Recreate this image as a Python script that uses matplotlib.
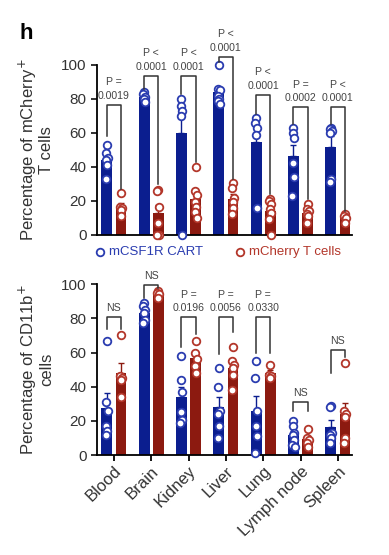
import numpy as np
import matplotlib
matplotlib.use("Agg")
import matplotlib.pyplot as plt

plt.rcParams['font.family'] = ['Liberation Sans', 'DejaVu Sans']

tissues = ["Blood", "Brain", "Kidney", "Liver", "Lung", "Lymph node", "Spleen"]

# top panel: percentage of mCherry+ T cells
top_cart = [
    [53, 48, 45, 44, 41, 33],
    [84, 83, 81, 80, 78],
    [80, 76, 73, 70, 0],
    [100, 86, 85, 82, 80, 79, 77],
    [69, 66, 63, 59, 16],
    [63, 60, 57, 42, 34, 23],
    [63, 62, 61, 60, 33, 31],
]
top_cherry = [
    [24.5, 16.5, 15.5, 14.5, 11],
    [26.5, 26, 16.5, 7, 0, 0],
    [40, 25.5, 23.5, 19.5, 16.5, 13.5, 10],
    [30.5, 27.5, 21.5, 19.5, 15.5, 12],
    [21, 20, 18, 15, 13, 9, 0],
    [18, 15, 14, 12, 11, 7],
    [12, 11, 10, 7],
]
# bottom panel: percentage of CD11b+ cells
bot_cart = [
    [67, 31, 26, 17, 14, 12],
    [89, 87, 85, 83, 79, 77],
    [58, 44, 37, 25, 20.5, 18.5],
    [51, 40, 26, 24, 17, 10],
    [55, 45, 26, 17, 11, 1.5],
    [20, 17, 13, 12, 9, 6, 5],
    [29, 28, 13, 12, 10, 7],
]
bot_cherry = [
    [70, 46, 45, 44, 34],
    [96, 95, 94, 92],
    [67, 60, 56, 52, 48],
    [63, 55, 53, 51, 47, 38],
    [53, 47, 46, 45],
    [15, 10, 9, 7, 5],
    [54, 26, 24, 22, 10, 7],
]

# brackets: (label, bracket top, left leg bottom, right leg bottom)
top_stats = [
    ("P =\n0.0019", 76.5, 58, 27),
    ("P <\n0.0001", 93.5, 86, 30),
    ("P <\n0.0001", 93.5, 83, 43),
    ("P <\n0.0001", 104.7, 102, 33),
    ("P <\n0.0001", 82.4, 71, 24),
    ("P =\n0.0002", 75, 65, 21),
    ("P <\n0.0001", 75, 65, 14),
]
bot_stats = [
    ("NS", 80.5, 74, 74),
    ("NS", 99.5, 92, 97.5),
    ("P =\n0.0196", 80.5, 63, 71),
    ("P =\n0.0056", 80.5, 59, 72),
    ("P =\n0.0330", 80.5, 60, 60),
    ("NS", 31, 26, 26),
    ("NS", 61.5, 48, 57.5),
]

blue_bar = "#0b1e8f"
red_bar = "#8c1a10"
blue_pt = "#2a3cb0"
red_pt = "#b3362a"

x = np.arange(len(tissues))
off = 0.19
w = 0.29
jit = [0, -0.04, 0.04, -0.02, 0.02, -0.05, 0.05]


def draw(ax, cart, cherry, stats):
    for i in range(len(tissues)):
        for vals, dx, bc, pc in ((cart[i], -off, blue_bar, blue_pt),
                                 (cherry[i], off, red_bar, red_pt)):
            v = np.array(vals, float)
            m = v.mean()
            sem = v.std(ddof=1) / np.sqrt(len(v))
            ax.bar(x[i] + dx, m, width=w, color=bc, zorder=2)
            ax.errorbar(x[i] + dx, m, yerr=[[0], [sem]], color=bc, capsize=2.5,
                        lw=1, capthick=1, zorder=2)
            xs = x[i] + dx + np.array(jit[:len(v)]) * 0.6
            ax.scatter(xs, v, s=30, facecolor="white", edgecolor=pc, lw=1.3,
                       zorder=3, clip_on=False)
        lab, top, lb, rb = stats[i]
        ax.plot([x[i] - off, x[i] - off, x[i] + off, x[i] + off],
                [lb, top, top, rb], color="#333333", lw=1.1, zorder=4, clip_on=False)
        ax.text(x[i], top + 2.5, lab, ha="center", va="bottom", fontsize=7.6,
                color="#444444", linespacing=1.45, clip_on=False)
    ax.set_xlim(-0.456, 6.38)
    ax.set_ylim(0, 100)
    ax.set_yticks([0, 20, 40, 60, 80, 100])
    for s in ("top", "right"):
        ax.spines[s].set_visible(False)
    for s in ("left", "bottom"):
        ax.spines[s].set_linewidth(1.3)
    ax.tick_params(axis="y", labelsize=11, width=1.3, length=4, colors="#222222",
                   labelcolor="#333333")


fig = plt.figure(figsize=(3.89, 5.55), dpi=100)
ax1 = fig.add_axes([0.249, 0.577, 0.656, 0.306])
ax2 = fig.add_axes([0.249, 0.180, 0.656, 0.308])

draw(ax1, top_cart, top_cherry, top_stats)
draw(ax2, bot_cart, bot_cherry, bot_stats)

ax1.set_xticks([])
ax1.set_ylabel("Percentage of mCherry$^{+}$\nT cells", fontsize=12, labelpad=5,
               color="#333333", linespacing=1.0)
ax2.set_ylabel("Percentage of CD11b$^{+}$\ncells", fontsize=12, labelpad=5,
               color="#333333", linespacing=1.0)
ax2.set_xticks(x)
ax2.set_xticklabels(tissues, rotation=45, ha="right", rotation_mode="anchor",
                    fontsize=12, color="#333333")
ax2.tick_params(axis="x", width=1.3, length=4, pad=2)

# legend under top panel
ax1.scatter([], [], s=30, facecolor="white", edgecolor=blue_pt, lw=1.3, label="mCSF1R CART")
ax1.scatter([], [], s=30, facecolor="white", edgecolor=red_pt, lw=1.3, label="mCherry T cells")
leg = ax1.legend(loc="upper center", bbox_to_anchor=(0.47, -0.035), ncol=2, frameon=False,
                 fontsize=9.5, handletextpad=0.1, columnspacing=2.2, borderaxespad=0,
                 handlelength=1.2)
for t, c in zip(leg.get_texts(), (blue_pt, red_pt)):
    t.set_color(c)

fig.text(0.05, 0.93, "h", fontsize=16, fontweight="bold")

fig.savefig("out.png", dpi=100)
